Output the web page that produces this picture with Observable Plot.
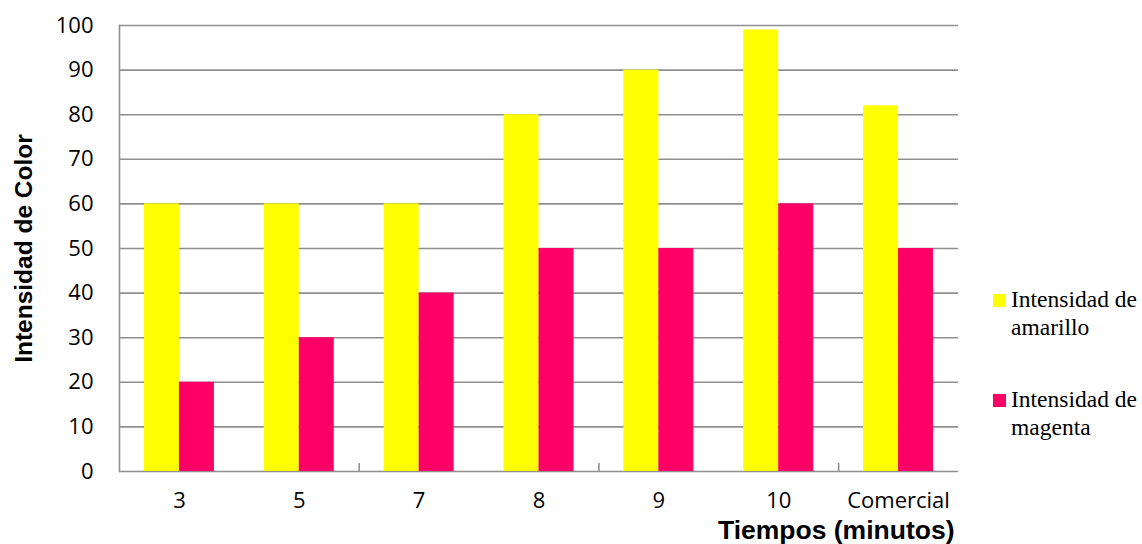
<!DOCTYPE html>
<html lang="es">
<head>
<meta charset="utf-8">
<script src="https://cdn.jsdelivr.net/npm/d3@7"></script>
<script src="https://cdn.jsdelivr.net/npm/@observablehq/plot@0.6"></script>
<style>
  html, body { margin: 0; padding: 0; background: #fff; }
  #chart { position: relative; width: 1142px; height: 544px; }
  .legend-item { position: absolute; left: 993px; display: flex; align-items: flex-start;
    font-family: "Liberation Serif", "Times New Roman", serif; font-size: 23.5px; line-height: 28px; color: #000; }
  .swatch { width: 13px; height: 13px; margin-top: 8.9px; margin-right: 5px; flex: none; }
</style>
</head>
<body>
<div id="chart"></div>
<script>
// Tiempos de tratamiento (minutos) y muestra comercial
const categories = ["3", "5", "7", "8", "9", "10", "Comercial"];
const amarillo = [60, 60, 60, 80, 90, 99, 82];
const magenta = [20, 30, 40, 50, 50, 60, 50];
const yTicks = [0, 10, 20, 30, 40, 50, 60, 70, 80, 90, 100];

const seriesNames = ["Intensidad de amarillo", "Intensidad de magenta"];
const seriesColors = ["#ffff00", "#ff0066"];

const width = 1142, height = 544;
const marginLeft = 119, marginRight = 184, marginTop = 25, marginBottom = 73;
const step = (width - marginLeft - marginRight) / categories.length;
const barWidth = 35;

const rowsAmarillo = categories.map((c, i) => ({cat: c, value: amarillo[i]}));
const rowsMagenta = categories.map((c, i) => ({cat: c, value: magenta[i]}));
// tick marks on the category axis, every second boundary
const boundaryTicks = categories.filter((c, i) => i > 0 && i % 2 === 0);

const grid = "#8f8f8f";

const plot = Plot.plot({
  width, height, marginLeft, marginRight, marginTop, marginBottom,
  style: {fontFamily: "'Open Sans', sans-serif", fontSize: "22px", color: "#000", background: "#fff"},
  x: {type: "band", domain: categories, padding: 0, round: false},
  y: {domain: [0, 100]},
  marks: [
    Plot.gridY(yTicks, {stroke: grid, strokeOpacity: 1, strokeWidth: 1.6}),
    Plot.frame({anchor: "left", stroke: grid, strokeWidth: 1.6}),
    Plot.ruleX(boundaryTicks, {x: d => d, dx: -step / 2, y1: 0, insetTop: -8, stroke: grid, strokeWidth: 1.6}),
    Plot.barY(rowsAmarillo, {x: "cat", y: "value", fill: seriesColors[0],
      insetLeft: step / 2 - barWidth, insetRight: step / 2}),
    Plot.barY(rowsMagenta, {x: "cat", y: "value", fill: seriesColors[1],
      insetLeft: step / 2, insetRight: step / 2 - barWidth}),
    Plot.axisY(yTicks, {tickSize: 0, tickPadding: 26, label: null}),
    Plot.axisX({tickSize: 0, tickPadding: 21, label: null}),
    Plot.text(["Intensidad de Color"], {frameAnchor: "left", textAnchor: "middle", dx: -95, rotate: -90,
      fontFamily: "'Liberation Sans', Arial, sans-serif", fontWeight: "bold", fontSize: 24.5, fill: "#000"}),
    Plot.text(["Tiempos (minutos)"], {frameAnchor: "bottom-right", textAnchor: "end", lineAnchor: "bottom",
      dx: -4, dy: 67, fontFamily: "'Liberation Sans', Arial, sans-serif", fontWeight: "bold", fontSize: 26.5, fill: "#000"})
  ]
});

const chart = document.getElementById("chart");
chart.appendChild(plot);

// Legend to the right of the plot area
const legendTops = [285.1, 385.1];
seriesNames.forEach((name, i) => {
  const item = document.createElement("div");
  item.className = "legend-item";
  item.style.top = legendTops[i] + "px";
  const sw = document.createElement("div");
  sw.className = "swatch";
  sw.style.background = seriesColors[i];
  const label = document.createElement("div");
  const words = name.split(" ");
  label.innerHTML = words.slice(0, 2).join(" ") + "<br>" + words.slice(2).join(" ");
  item.appendChild(sw);
  item.appendChild(label);
  chart.appendChild(item);
});
</script>
</body>
</html>
